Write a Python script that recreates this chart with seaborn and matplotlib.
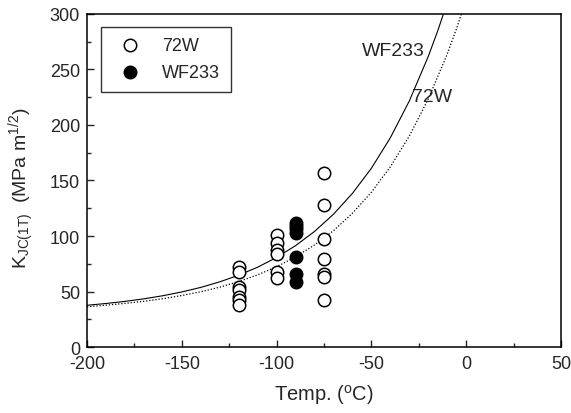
import numpy as np
import pandas as pd
import matplotlib
matplotlib.use("Agg")
import matplotlib.pyplot as plt
import seaborn as sns
from matplotlib.ticker import MultipleLocator

# ---- data ----
temp_72w = [-120]*7 + [-100]*6 + [-75]*7
kjc_72w = [72, 68, 54, 51, 45, 42, 38,
           101, 94, 87, 84, 68, 62,
           157, 128, 97, 79, 66, 63, 42]

temp_wf233 = [-90]*7
kjc_wf233 = [112, 109, 106, 103, 81, 66, 59]

curve_t_wf233 = [-200, -190, -180, -170, -160, -150, -140, -130, -120, -110, -100,
                 -90, -80, -70, -60, -50, -40, -30, -20, -15, -10]
curve_k_wf233 = [37.6, 39.2, 41.1, 43.4, 46.2, 49.6, 53.7, 58.7, 64.7, 71.9, 80.7,
                 91.3, 104.1, 119.6, 138.4, 161.0, 188.5, 221.6, 261.7, 284.8, 310.2]

curve_t_72w = [-200, -190, -180, -170, -160, -150, -140, -130, -120, -110, -100,
               -90, -80, -70, -60, -50, -40, -30, -20, -10, -5, 0]
curve_k_72w = [36.3, 37.7, 39.3, 41.2, 43.5, 46.4, 49.8, 53.9, 58.9, 65.0, 72.3,
               81.2, 91.9, 104.8, 120.5, 139.4, 162.3, 190.0, 223.4, 263.9, 287.2, 312.9]

sns.set_style("ticks")
plt.rcParams['font.family'] = ['Liberation Sans', 'DejaVu Sans']
plt.rcParams['mathtext.fontset'] = 'custom'
plt.rcParams['mathtext.rm'] = 'Liberation Sans'
plt.rcParams['mathtext.it'] = 'Liberation Sans'
plt.rcParams['axes.unicode_minus'] = False

fig = plt.figure(figsize=(5.71, 4.14), dpi=100)
ax = fig.add_axes([0.1524, 0.1594, 0.830, 0.8044])

df_w = pd.DataFrame({"T": curve_t_wf233, "K": curve_k_wf233})
df_7 = pd.DataFrame({"T": curve_t_72w, "K": curve_k_72w})
sns.lineplot(data=df_w, x="T", y="K", ax=ax, color="black", lw=0.8, sort=True)
sns.lineplot(data=df_7, x="T", y="K", ax=ax, color="black", lw=0.9, ls=(0, (1, 1.5)), sort=True)

d72 = pd.DataFrame({"T": temp_72w, "K": kjc_72w})
dwf = pd.DataFrame({"T": temp_wf233, "K": kjc_wf233})
sns.scatterplot(data=d72, x="T", y="K", ax=ax, marker="o", s=80,
                facecolor="white", edgecolor="black", linewidth=1.1, label="72W", zorder=3)
sns.scatterplot(data=dwf, x="T", y="K", ax=ax, marker="o", s=80,
                facecolor="black", edgecolor="black", linewidth=1.1, label="WF233", zorder=3)

ax.set_xlim(-200, 50)
ax.set_ylim(0, 300)
ax.xaxis.set_major_locator(MultipleLocator(50))
ax.xaxis.set_minor_locator(MultipleLocator(25))
ax.yaxis.set_major_locator(MultipleLocator(50))
ax.yaxis.set_minor_locator(MultipleLocator(25))
ax.tick_params(which="both", direction="in", top=False, right=False, width=1)
ax.tick_params(which="major", length=5, labelsize=13)
ax.tick_params(axis="y", which="major", pad=5)
ax.tick_params(axis="x", which="major", pad=6)
ax.tick_params(which="minor", length=3)
for sp in ax.spines.values():
    sp.set_linewidth(1.1)
    sp.set_color("black")

ax.set_xlabel("Temp. ($^{\\rm o}$C)", fontsize=14.5, labelpad=7)
ax.set_ylabel("K$_{\\rm JC(1T)}$  (MPa m$^{\\rm 1/2}$)", fontsize=14)
ax.yaxis.set_label_coords(-0.105, 0.48)

ax.text(-38.5, 267, "WF233", fontsize=14, ha="center", va="center")
ax.text(-18, 226, "72W", fontsize=14, ha="center", va="center")

leg = ax.legend(loc="upper left", bbox_to_anchor=(0.03, 0.962), frameon=True,
                fancybox=False, fontsize=13, handletextpad=0.75, borderpad=0.58,
                labelspacing=0.55, markerscale=1.0, handlelength=2.05,
                borderaxespad=0)
leg.get_frame().set_edgecolor("black")
leg.get_frame().set_linewidth(1.0)

fig.savefig("out.png", dpi=100)
